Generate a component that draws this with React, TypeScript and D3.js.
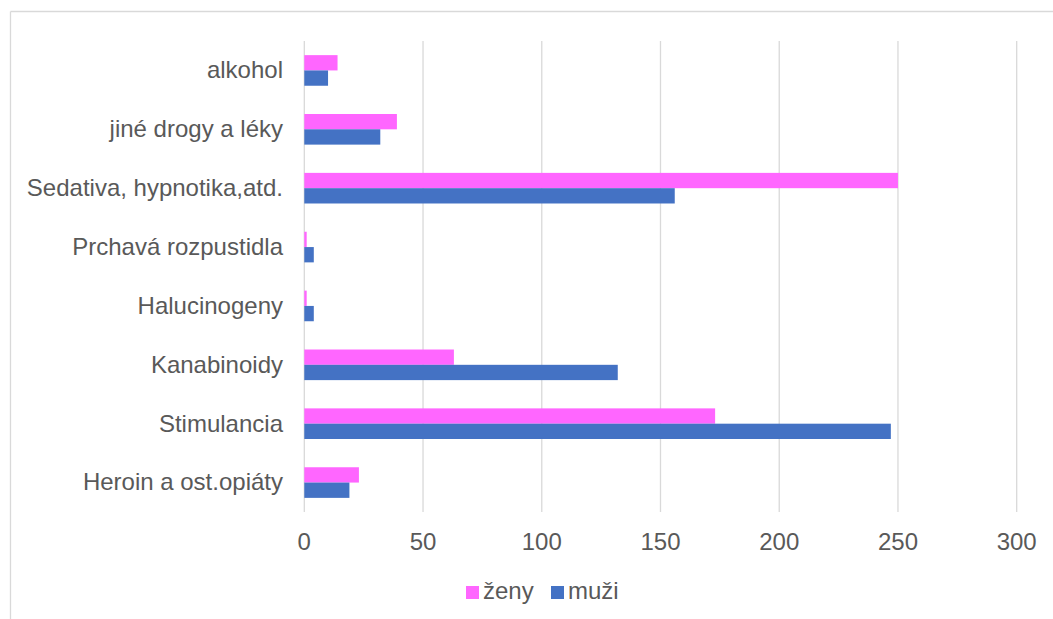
import React from "react";
import * as d3 from "d3";

const categories = [
  "alkohol",
  "jiné drogy a léky",
  "Sedativa, hypnotika,atd.",
  "Prchavá rozpustidla",
  "Halucinogeny",
  "Kanabinoidy",
  "Stimulancia",
  "Heroin a ost.opiáty",
];
const seriesNames = ["ženy", "muži"];
const zeny = [14, 39, 250, 1, 1, 63, 173, 23];
const muzi = [10, 32, 156, 4, 4, 132, 247, 19];
const xTicks = [0, 50, 100, 150, 200, 250, 300];
const colors = ["#FF66FF", "#4472C4"];

const W = 1053;
const H = 619;
const FONT = "'Liberation Sans', Arial, sans-serif";
const TEXT = "#595959";

export default function App() {
  const x = d3.scaleLinear().domain([0, 300]).range([304.3, 1016.7]);
  const y = d3
    .scaleBand<string>()
    .domain(categories)
    .range([41, 512])
    .paddingInner(0.48)
    .paddingOuter(0.24);
  const inner = d3
    .scaleBand<string>()
    .domain(seriesNames)
    .range([0, y.bandwidth()]);
  const values = [zeny, muzi];

  return (
    <svg
      width={W}
      height={H}
      style={{ position: "absolute", left: 0, top: 0, background: "#fff" }}
      fontFamily={FONT}
    >
      <rect x={0} y={0} width={W} height={H} fill="#fff" />
      {/* chart frame */}
      <line x1={10.5} y1={11.5} x2={W} y2={11.5} stroke="#d9d9d9" strokeWidth={1.3} />
      <line x1={10.5} y1={11.5} x2={10.5} y2={H} stroke="#d9d9d9" strokeWidth={1.3} />

      {/* gridlines */}
      {xTicks.map((t) => (
        <line
          key={t}
          x1={x(t)}
          x2={x(t)}
          y1={41}
          y2={512}
          stroke="#d9d9d9"
          strokeWidth={1.3}
        />
      ))}

      {/* bars */}
      {categories.map((c, i) =>
        seriesNames.map((s, si) => (
          <rect
            key={c + s}
            x={x(0)}
            y={(y(c) ?? 0) + (inner(s) ?? 0)}
            width={x(values[si][i]) - x(0)}
            height={inner.bandwidth()}
            fill={colors[si]}
          />
        ))
      )}

      {/* category labels */}
      {categories.map((c) => (
        <text
          key={c}
          x={283}
          y={(y(c) ?? 0) + y.bandwidth() / 2 - 0.5}
          dy="0.35em"
          textAnchor="end"
          fontSize={24}
          fill={TEXT}
        >
          {c}
        </text>
      ))}

      {/* tick labels */}
      {xTicks.map((t) => (
        <text
          key={t}
          x={x(t)}
          y={550}
          textAnchor="middle"
          fontSize={24}
          fill={TEXT}
        >
          {t}
        </text>
      ))}

      {/* legend */}
      <rect x={466} y={586} width={13} height={13} fill={colors[0]} />
      <text x={483} y={599} fontSize={24} fill={TEXT}>
        {seriesNames[0]}
      </text>
      <rect x={551} y={586} width={13} height={13} fill={colors[1]} />
      <text x={568} y={599} fontSize={24} fill={TEXT}>
        {seriesNames[1]}
      </text>
    </svg>
  );
}
